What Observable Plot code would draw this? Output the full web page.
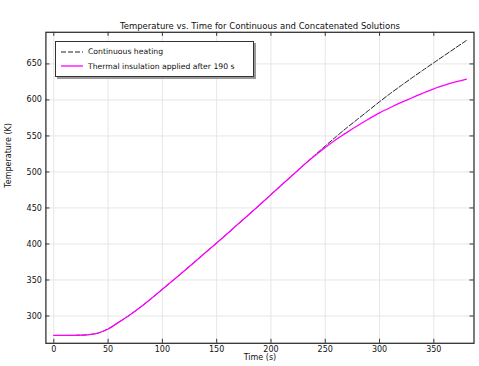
<!DOCTYPE html>
<html>
<head>
<meta charset="utf-8">
<script src="https://cdn.jsdelivr.net/npm/d3@7"></script>
<script src="https://cdn.jsdelivr.net/npm/@observablehq/plot@0.6"></script>
<style>
  body { margin: 0; background: #fff; }
  #wrap { position: relative; width: 479px; height: 366px; font-family: "DejaVu Sans", sans-serif; }
  #legend { position: absolute; left: 55px; top: 41px; width: 197px; height: 34px; background: #fff;
    border: 1px solid #333; box-shadow: 2px 2px 0 #9a9a9a; font-size: 7.7px; color: #111; }
  .row { position: absolute; left: 5px; height: 12px; display: flex; align-items: center; }
  .row svg { margin-right: 5px; }
</style>
</head>
<body>
<div id="wrap"></div>
<script>
const title = "Temperature vs. Time for Continuous and Concatenated Solutions";
const xLabel = "Time (s)";
const yLabel = "Temperature (K)";
const seriesNames = ["Continuous heating", "Thermal insulation applied after 190 s"];
const xTicks = [0, 50, 100, 150, 200, 250, 300, 350];
const yTicks = [300, 350, 400, 450, 500, 550, 600, 650];

const time = [0, 10, 20, 30, 40, 50, 60, 70, 80, 90, 100, 110, 120, 130, 140, 150, 160, 170, 180, 190,
  200, 210, 220, 230, 240, 250, 260, 270, 280, 290, 300, 310, 320, 330, 340, 350, 360, 370, 380];
const continuous = [273, 273, 273.2, 273.8, 276, 282, 291.5, 301.5, 312.5, 324.5, 337, 349.7, 362.5, 375.4,
  388.4, 401.5, 414.7, 428, 441.4, 454.9, 468.5, 482.1, 495.7, 509.3, 522.8, 536, 549, 561.5, 573.5,
  585.5, 597.5, 609, 620, 630.8, 641.3, 651.7, 662, 672.3, 682.5];
const insulated = [273, 273, 273.2, 273.8, 276, 282, 291.5, 301.5, 312.5, 324.5, 337, 349.7, 362.5, 375.4,
  388.4, 401.5, 414.7, 428, 441.4, 454.9, 468.5, 482.1, 495.7, 509.3, 522, 534, 545, 555, 564.5,
  573.5, 582, 589.5, 596.5, 603, 609.5, 615.5, 620.5, 625, 629];

const dataC = time.map((t, i) => ({t, T: continuous[i]}));
const dataI = time.map((t, i) => ({t, T: insulated[i]}));

const W = 479, H = 366;
const mL = 45.4, mR = 5.5, mT = 31.8, mB = 23.2;
const pw = W - mL - mR, ph = H - mT - mB;

const chart = Plot.plot({
  width: W, height: H,
  marginLeft: mL, marginRight: mR, marginTop: mT, marginBottom: mB,
  style: {fontFamily: "DejaVu Sans, sans-serif", fontSize: "8px", color: "#111", background: "#fff"},
  x: {domain: [-7.28, 387.0], axis: null},
  y: {domain: [262.1, 693.9], axis: null},
  marks: [
    Plot.ruleX(xTicks, {stroke: "#e6e6e6", strokeWidth: 1}),
    Plot.ruleY(yTicks, {stroke: "#e6e6e6", strokeWidth: 1}),
    Plot.line(dataC, {x: "t", y: "T", stroke: "#222", strokeWidth: 1, strokeDasharray: "5,2", curve: "catmull-rom"}),
    Plot.line(dataI, {x: "t", y: "T", stroke: "#ff00ff", strokeWidth: 1.3, curve: "catmull-rom"}),
    Plot.frame({stroke: "#333", strokeWidth: 1.3}),
    Plot.ruleX(xTicks, {stroke: "#333", insetTop: ph - 4}),
    Plot.ruleX(xTicks, {stroke: "#333", insetBottom: ph - 4}),
    Plot.ruleY(yTicks, {stroke: "#333", insetRight: pw - 4}),
    Plot.ruleY(yTicks, {stroke: "#333", insetLeft: pw - 4}),
    Plot.text(xTicks, {x: d => d, frameAnchor: "bottom", dy: 9, fill: "#111"}),
    Plot.text(yTicks, {y: d => d, frameAnchor: "left", textAnchor: "end", dx: -4, fill: "#111"}),
    Plot.text([xLabel], {frameAnchor: "bottom", dy: 16.5, fill: "#111"}),
    Plot.text([yLabel], {frameAnchor: "left", dx: -37, rotate: -90, fill: "#111"}),
    Plot.text([title], {frameAnchor: "top", dy: -9, fill: "#111", fontSize: 8.5})
  ]
});

const wrap = document.getElementById("wrap");
wrap.appendChild(chart);

const legend = document.createElement("div");
legend.id = "legend";
const styles = [
  {stroke: "#222", dash: "5,2", width: 1},
  {stroke: "#ff00ff", dash: "", width: 1.3}
];
seriesNames.forEach((name, i) => {
  const row = document.createElement("div");
  row.className = "row";
  row.style.top = (i === 0 ? 3.5 : 18) + "px";
  const s = styles[i];
  row.innerHTML = `<svg width="22" height="6"><line x1="0" x2="22" y1="3" y2="3" stroke="${s.stroke}" stroke-width="${s.width}" ${s.dash ? `stroke-dasharray="${s.dash}"` : ""}/></svg><span>${name}</span>`;
  legend.appendChild(row);
});
wrap.appendChild(legend);
</script>
</body>
</html>
